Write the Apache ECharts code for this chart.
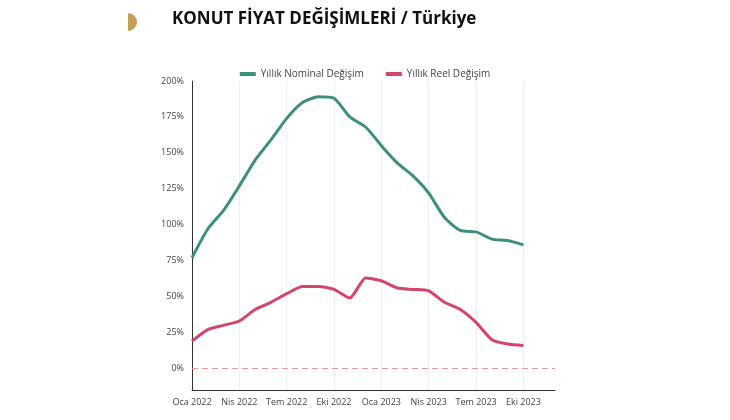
<!DOCTYPE html>
<html>
<head>
<meta charset="utf-8">
<script src="https://cdn.jsdelivr.net/npm/echarts@6/dist/echarts.min.js"></script>
<style>html,body{margin:0;padding:0;background:#fff}#c{width:730px;height:420px}</style>
</head>
<body>
<div id="c"></div>
<script>
var months = ['Oca 2022','Şub 2022','Mar 2022','Nis 2022','May 2022','Haz 2022','Tem 2022','Ağu 2022','Eyl 2022','Eki 2022','Kas 2022','Ara 2022',
  'Oca 2023','Şub 2023','Mar 2023','Nis 2023','May 2023','Haz 2023','Tem 2023','Ağu 2023','Eyl 2023','Eki 2023','Kas 2023','Ara 2023'];
var nominal = [77,97,110,127,145,159,174,185,189,188,175,168,155,143,134,122,105,96,95,90,89,86];
var reel = [19,27,30,33,41,46,52,57,57,55,49,63,61,56,55,54,46,41,32,20,17,16];
var yTicks = [0,25,50,75,100,125,150,175,200];

var chart = echarts.init(document.getElementById('c'));
chart.setOption({
  backgroundColor: '#fff',
  textStyle: { fontFamily: 'Open Sans' },
  graphic: [
    { type: 'sector', shape: { cx: 128, cy: 22, r: 9, startAngle: -Math.PI / 2, endAngle: Math.PI / 2 }, style: { fill: '#c2a05a' } },
    { type: 'text', left: 172, top: 11, style: { text: 'KONUT FİYAT DEĞİŞİMLERİ / Türkiye', font: 'bold 17px "Open Sans"', fill: '#111' } }
  ],
  legend: {
    top: 64, left: 'center', itemWidth: 16, itemHeight: 4, itemGap: 22,
    icon: 'rect', textStyle: { fontSize: 10, color: '#444' },
    data: ['Yıllık Nominal Değişim', 'Yıllık Reel Değişim']
  },
  grid: { left: 192, right: 175, top: 81, bottom: 30 },
  xAxis: {
    type: 'category', data: months, boundaryGap: false,
    axisLine: { onZero: false, lineStyle: { color: '#333' } },
    axisTick: { show: false },
    axisLabel: { interval: 2, fontSize: 9, color: '#444' },
    splitLine: { show: true, interval: 2, lineStyle: { color: '#eee' } }
  },
  yAxis: {
    type: 'value', min: -15, max: 200,
    axisLine: { show: true, lineStyle: { color: '#333' } },
    axisTick: { show: false },
    splitLine: { show: false },
    axisLabel: { customValues: yTicks, formatter: '{value}%', fontSize: 9, color: '#444' }
  },
  series: [
    { name: 'Yıllık Nominal Değişim', type: 'line', data: nominal, smooth: 0.2, showSymbol: false,
      lineStyle: { width: 3, color: '#3d8f7c' }, itemStyle: { color: '#3d8f7c' } },
    { name: 'Yıllık Reel Değişim', type: 'line', data: reel, smooth: 0.2, showSymbol: false,
      lineStyle: { width: 3, color: '#d4456b' }, itemStyle: { color: '#d4456b' },
      markLine: { silent: true, symbol: 'none', label: { show: false },
        lineStyle: { type: [6, 4], color: '#e89a9a', width: 1 }, data: [{ yAxis: 0 }] } }
  ]
});
</script>
</body>
</html>
